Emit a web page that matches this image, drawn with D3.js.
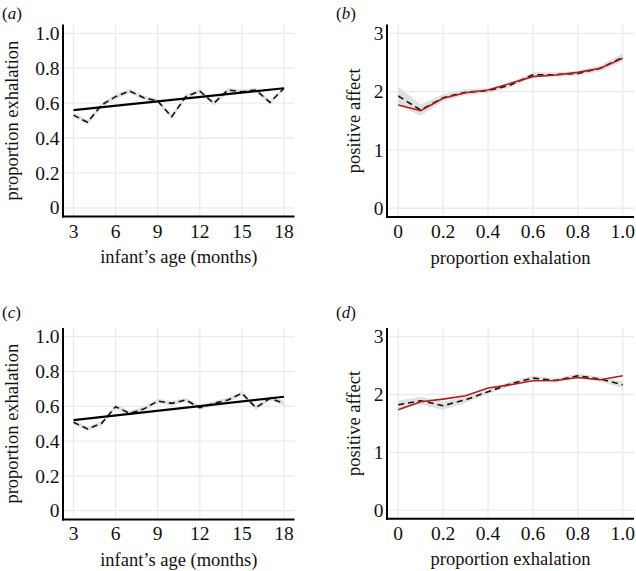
<!DOCTYPE html>
<html><head><meta charset="utf-8">
<script src="https://cdn.jsdelivr.net/npm/d3@7"></script>
<style>
body{margin:0;background:#fff;}
</style></head>
<body><svg id="c" width="636" height="571"></svg>
<script>
// ---- data ----
const months = [3,4,5,6,7,8,9,10,11,12,13,14,15,16,17,18];
const exhA = [0.531,0.49,0.589,0.637,0.669,0.631,0.612,0.522,0.637,0.669,0.599,0.675,0.665,0.675,0.604,0.685];
const fitA = [0.56,0.685];
const exhC = [0.508,0.47,0.502,0.598,0.56,0.584,0.63,0.617,0.636,0.592,0.617,0.636,0.675,0.592,0.646,0.617];
const fitC = [0.521,0.655];
const propX = [0,0.1,0.2,0.3,0.4,0.5,0.6,0.7,0.8,0.9,1.0];
const redB = [1.771,1.673,1.886,1.98,2.028,2.143,2.257,2.285,2.33,2.40,2.571];
const dashB = [1.925,1.685,1.897,1.99,2.017,2.114,2.291,2.291,2.314,2.40,2.589];
const seB = [0.16,0.10,0.06,0.05,0.04,0.04,0.04,0.04,0.04,0.05,0.07];
const redD = [1.737,1.875,1.92,1.978,2.111,2.168,2.237,2.242,2.294,2.254,2.323];
const dashD = [1.823,1.892,1.806,1.909,2.047,2.185,2.283,2.242,2.323,2.266,2.168];
const seD = [0.07,0.07,0.07,0.05,0.04,0.04,0.04,0.04,0.04,0.04,0.06];
const seAge = 0.013;
const ageTicks = [3,6,9,12,15,18];
const exhTicks = [0,0.2,0.4,0.6,0.8,1.0];
const exhTickLabels = ["0","0.2","0.4","0.6","0.8","1.0"];
const affTicks = [0,1,2,3];
const propTicks = [0,0.2,0.4,0.6,0.8,1.0];
const propTickLabels = ["0","0.2","0.4","0.6","0.8","1.0"];

const svg = d3.select("#c");
const FS = "18.5px";
const TFS = "19.5px";
const FONT = "'Times New Roman'";

function txt(g){
  return g.append("text").style("font-family",FONT).style("font-size",FS).style("fill","#111");
}

function panel(o){
  const g = svg.append("g");
  const x = d3.scaleLinear().domain(o.xdom).range([o.left,o.right]);
  const y = d3.scaleLinear().domain(o.ydom).range([o.bottom,o.top]);
  // grid
  g.selectAll(".gx").data(o.xt).enter().append("line")
    .attr("x1",d=>x(d)).attr("x2",d=>x(d)).attr("y1",o.top).attr("y2",o.bottom)
    .attr("stroke","#ebebeb").attr("stroke-width",1.3);
  g.selectAll(".gy").data(o.yt).enter().append("line")
    .attr("y1",d=>y(d)).attr("y2",d=>y(d)).attr("x1",o.left).attr("x2",o.right)
    .attr("stroke","#ebebeb").attr("stroke-width",1.3);
  // ribbon
  const area = d3.area().x(d=>x(d[0])).y0(d=>y(d[1]-d[2])).y1(d=>y(d[1]+d[2]));
  g.append("path").datum(o.xs.map((v,i)=>[v,o.dash[i],o.se[i]]))
    .attr("d",area).attr("fill","#dadada").attr("opacity",0.85);
  const line = d3.line().x(d=>x(d[0])).y(d=>y(d[1]));
  g.append("path").datum(o.xs.map((v,i)=>[v,o.dash[i]]))
    .attr("d",line).attr("fill","none").attr("stroke","#111").attr("stroke-width",1.6)
    .attr("stroke-dasharray","6,4");
  if(o.fit){
    g.append("path").datum([[o.xs[0],o.fit[0]],[o.xs[o.xs.length-1],o.fit[1]]])
      .attr("d",line).attr("fill","none").attr("stroke","#000").attr("stroke-width",2.2);
  }
  if(o.red){
    g.append("path").datum(o.xs.map((v,i)=>[v,o.red[i]]))
      .attr("d",line).attr("fill","none").attr("stroke","#b01c1c").attr("stroke-width",1.6);
  }
  // axes lines
  g.append("line").attr("x1",o.left).attr("x2",o.left).attr("y1",o.top).attr("y2",o.bottom+1)
    .attr("stroke","#000").attr("stroke-width",2);
  g.append("line").attr("x1",o.left-1).attr("x2",o.right).attr("y1",o.bottom).attr("y2",o.bottom)
    .attr("stroke","#000").attr("stroke-width",2);
  // tick labels
  o.yt.forEach((d,i)=>{
    txt(g).style("font-size",TFS).attr("x",o.left-3.5).attr("y",y(d)).attr("dy","0.34em").attr("text-anchor","end").text(o.ytl[i]);
  });
  o.xt.forEach((d,i)=>{
    txt(g).style("font-size",TFS).attr("x",x(d)).attr("y",o.bottom+21).attr("text-anchor","middle").text(o.xtl[i]);
  });
  // titles
  txt(g).attr("x",(o.left+o.right)/2).attr("y",o.bottom+46.5).attr("text-anchor","middle").text(o.xtitle);
  txt(g).attr("transform",`translate(${o.ytx},${(o.top+o.bottom)/2}) rotate(-90)`)
    .attr("text-anchor","middle").text(o.ytitle);
  // panel label
  const t = txt(g).style("font-size","17px").attr("x",o.lx).attr("y",o.ly);
  t.append("tspan").text("(");
  t.append("tspan").style("font-style","italic").text(o.letter);
  t.append("tspan").text(")");
}

panel({left:63,right:294.5,top:24.6,bottom:216.5,xdom:[2.25,18.75],ydom:[-0.05,1.05],
  xt:ageTicks,xtl:ageTicks.map(String),yt:exhTicks,ytl:exhTickLabels,
  xs:months,dash:exhA,se:months.map(()=>seAge),fit:fitA,
  xtitle:"infant’s age (months)",ytitle:"proportion exhalation",ytx:18,lx:2,ly:19,letter:"a"});
panel({left:387,right:634,top:24.6,bottom:217,xdom:[-0.05,1.05],ydom:[-0.15,3.15],
  xt:propTicks,xtl:propTickLabels,yt:affTicks,ytl:affTicks.map(String),
  xs:propX,dash:dashB,se:seB,red:redB,
  xtitle:"proportion exhalation",ytitle:"positive affect",ytx:360,lx:336,ly:19,letter:"b"});
panel({left:63,right:294.5,top:328,bottom:519.4,xdom:[2.25,18.75],ydom:[-0.05,1.05],
  xt:ageTicks,xtl:ageTicks.map(String),yt:exhTicks,ytl:exhTickLabels,
  xs:months,dash:exhC,se:months.map(()=>seAge),fit:fitC,
  xtitle:"infant’s age (months)",ytitle:"proportion exhalation",ytx:18,lx:2,ly:318,letter:"c"});
panel({left:387,right:634,top:328,bottom:518.8,xdom:[-0.05,1.05],ydom:[-0.15,3.15],
  xt:propTicks,xtl:propTickLabels,yt:affTicks,ytl:affTicks.map(String),
  xs:propX,dash:dashD,se:seD,red:redD,
  xtitle:"proportion exhalation",ytitle:"positive affect",ytx:360,lx:336,ly:318,letter:"d"});
</script></body></html>
